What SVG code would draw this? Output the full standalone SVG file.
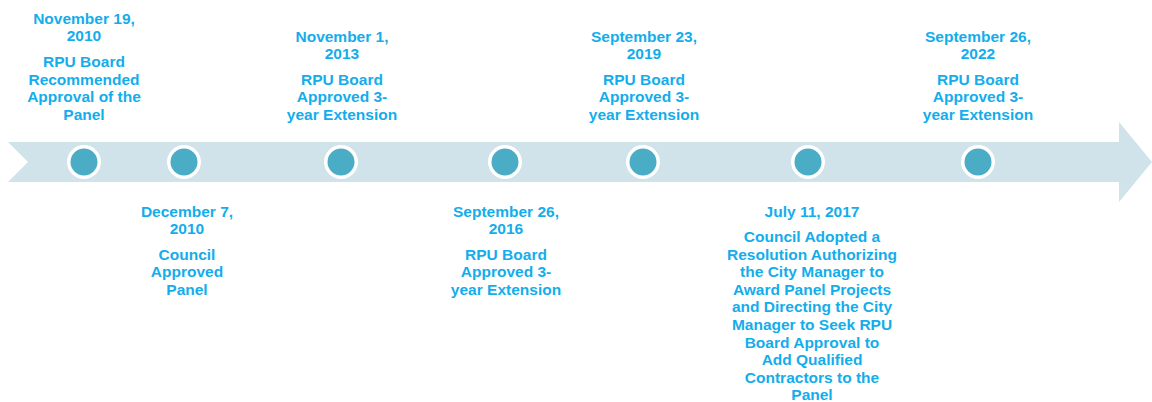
<svg xmlns="http://www.w3.org/2000/svg" width="1152" height="402" viewBox="0 0 1152 402">
<style>
text{font-family:"Liberation Sans",Arial,sans-serif;font-weight:bold;font-size:15.5px;fill:#13ADEB;text-anchor:middle}
.dot-o{fill:#FFFFFF}
.dot-i{fill:#4BACC6}
</style>
<rect width="1152" height="402" fill="#FFFFFF"/>
<g id="connectors">
<polygon points="8,142 1119,142 1119,122 1152,162 1119,202 1119,182 8,182 28,162" fill="#D0E3EA"/>
</g>
<g id="n1">
<circle class="dot-o" cx="84" cy="162" r="17"/><circle class="dot-i" cx="84" cy="162" r="13.5"/>
<text x="84" y="24">November 19,</text><text x="84" y="41">2010</text>
<text x="84" y="67">RPU Board</text><text x="84" y="84.5">Recommended</text><text x="84" y="102">Approval of the</text><text x="84" y="119.5">Panel</text>
</g>
<g id="n2">
<circle class="dot-o" cx="184" cy="162" r="17"/><circle class="dot-i" cx="184" cy="162" r="13.5"/>
<text x="187" y="217">December 7,</text><text x="187" y="234">2010</text>
<text x="187" y="259.5">Council</text><text x="187" y="277">Approved</text><text x="187" y="294.5">Panel</text>
</g>
<g id="n3">
<circle class="dot-o" cx="341" cy="162" r="17"/><circle class="dot-i" cx="341" cy="162" r="13.5"/>
<text x="342" y="42">November 1,</text><text x="342" y="59">2013</text>
<text x="342" y="84.5">RPU Board</text><text x="342" y="102">Approved 3-</text><text x="342" y="119.5">year Extension</text>
</g>
<g id="n4">
<circle class="dot-o" cx="505" cy="162" r="17"/><circle class="dot-i" cx="505" cy="162" r="13.5"/>
<text x="506" y="217">September 26,</text><text x="506" y="234">2016</text>
<text x="506" y="259.5">RPU Board</text><text x="506" y="277">Approved 3-</text><text x="506" y="294.5">year Extension</text>
</g>
<g id="n5">
<circle class="dot-o" cx="643" cy="162" r="17"/><circle class="dot-i" cx="643" cy="162" r="13.5"/>
<text x="644" y="42">September 23,</text><text x="644" y="59">2019</text>
<text x="644" y="84.5">RPU Board</text><text x="644" y="102">Approved 3-</text><text x="644" y="119.5">year Extension</text>
</g>
<g id="n6">
<circle class="dot-o" cx="808" cy="162" r="17"/><circle class="dot-i" cx="808" cy="162" r="13.5"/>
<text x="812" y="217">July 11, 2017</text>
<text x="812" y="242">Council Adopted a</text>
<text x="812" y="259.6">Resolution Authorizing</text>
<text x="812" y="277.2">the City Manager to</text>
<text x="812" y="294.8">Award Panel Projects</text>
<text x="812" y="312.4">and Directing the City</text>
<text x="812" y="330">Manager to Seek RPU</text>
<text x="812" y="347.6">Board Approval to</text>
<text x="812" y="365.2">Add Qualified</text>
<text x="812" y="382.8">Contractors to the</text>
<text x="812" y="400.4">Panel</text>
</g>
<g id="n7">
<circle class="dot-o" cx="978" cy="162" r="17"/><circle class="dot-i" cx="978" cy="162" r="13.5"/>
<text x="978" y="42">September 26,</text><text x="978" y="59">2022</text>
<text x="978" y="84.5">RPU Board</text><text x="978" y="102">Approved 3-</text><text x="978" y="119.5">year Extension</text>
</g>
</svg>
